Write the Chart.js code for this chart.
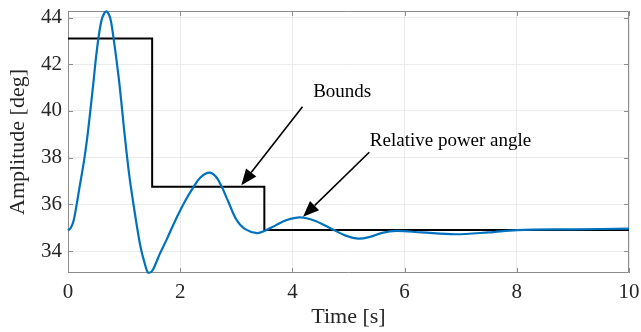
<!DOCTYPE html>
<html>
<head>
<meta charset="utf-8">
<script src="https://cdn.jsdelivr.net/npm/chart.js@4.4.1/dist/chart.umd.min.js"></script>
<style>
    html, body { margin: 0; padding: 0; background: #fff; }
    #wrap { width: 641px; height: 332px; }
</style>
</head>
<body>
<div id="wrap"><canvas id="grafico" width="641" height="332"></canvas></div>
<script>
// datos
const tiempo = [0, 0.05, 0.1, 0.155, 0.2, 0.25, 0.3, 0.35, 0.4, 0.45, 0.5, 0.55, 0.6, 0.65, 0.69,
    0.75, 0.81, 0.9, 0.95, 1.0, 1.05, 1.1, 1.18, 1.25, 1.3, 1.37, 1.43, 1.5, 1.57, 1.64, 1.76,
    1.94, 2.1, 2.24, 2.36, 2.51, 2.63, 2.74, 2.86, 3.0, 3.15, 3.37, 3.5, 3.7, 3.9, 4.14, 4.4,
    4.6, 4.74, 4.95, 5.18, 5.4, 5.6, 5.85, 6.3, 6.9, 7.5, 8.0, 9.0, 10];
const angulo = [34.88, 35.0, 35.3, 36.0, 36.65, 37.35, 38.1, 39.0, 40.05, 41.15, 42.3, 43.25, 43.9, 44.2, 44.26,
    44.0, 43.15, 41.5, 40.4, 39.2, 38.1, 37.1, 35.8, 34.75, 34.1, 33.45, 33.07, 33.15, 33.5, 33.9, 34.5,
    35.45, 36.2, 36.75, 37.15, 37.36, 37.2, 36.75, 36.1, 35.35, 34.95, 34.77, 34.86, 35.1, 35.33, 35.44, 35.3,
    35.07, 34.9, 34.66, 34.53, 34.62, 34.78, 34.86, 34.8, 34.72, 34.8, 34.9, 34.93, 34.96];

const tiempoLimite = [0, 1.5, 1.5, 3.5, 3.5, 10];
const limite = [43.1, 43.1, 36.75, 36.75, 34.9, 34.9];

const ticksX = [0, 2, 4, 6, 8, 10];
const ticksY = [34, 36, 38, 40, 42, 44];

// textos y flechas (en coordenadas de los ejes)
const notas = [
    { texto: 'Bounds', x: 4.37, y: 40.6, desde: [4.18, 40.18], hasta: [3.09, 36.82] },
    { texto: 'Relative power angle', x: 5.38, y: 38.51, desde: [5.37, 38.23], hasta: [4.19, 35.47] }
];

const fuente = 'Liberation Serif, Times New Roman, serif';

const marco = {
    id: 'marco',
    beforeDatasetsDraw(chart) {
        const { ctx, chartArea: a, scales } = chart;
        ctx.save();
        ctx.strokeStyle = '#8c8c8c';
        ctx.lineWidth = 1;
        ctx.beginPath();
        ctx.rect(a.left + 0.5, a.top + 0.5, a.right - a.left - 1, a.bottom - a.top - 1);
        ctx.stroke();
        // marcas hacia adentro
        ctx.beginPath();
        ticksX.forEach(v => {
            const px = Math.round(scales.x.getPixelForValue(v)) + 0.5;
            ctx.moveTo(px, a.bottom); ctx.lineTo(px, a.bottom - 5);
            ctx.moveTo(px, a.top); ctx.lineTo(px, a.top + 5);
        });
        ticksY.forEach(v => {
            const py = Math.round(scales.y.getPixelForValue(v)) + 0.5;
            ctx.moveTo(a.left, py); ctx.lineTo(a.left + 5, py);
            ctx.moveTo(a.right, py); ctx.lineTo(a.right - 5, py);
        });
        ctx.stroke();
        ctx.restore();
    },
    afterDatasetsDraw(chart) {
        const { ctx, scales } = chart;
        ctx.save();
        ctx.fillStyle = '#000';
        ctx.strokeStyle = '#000';
        ctx.font = '19px ' + fuente;
        ctx.textBaseline = 'alphabetic';
        ctx.textAlign = 'left';
        notas.forEach(n => {
            ctx.fillText(n.texto, scales.x.getPixelForValue(n.x), scales.y.getPixelForValue(n.y));
            const x1 = scales.x.getPixelForValue(n.desde[0]);
            const y1 = scales.y.getPixelForValue(n.desde[1]);
            const x2 = scales.x.getPixelForValue(n.hasta[0]);
            const y2 = scales.y.getPixelForValue(n.hasta[1]);
            const ang = Math.atan2(y2 - y1, x2 - x1);
            const largo = 16, ancho = 6.5;
            const bx = x2 - largo * Math.cos(ang);
            const by = y2 - largo * Math.sin(ang);
            ctx.lineWidth = 1.6;
            ctx.beginPath();
            ctx.moveTo(x1, y1);
            ctx.lineTo(bx, by);
            ctx.stroke();
            ctx.beginPath();
            ctx.moveTo(x2, y2);
            ctx.lineTo(bx + ancho * Math.sin(ang), by - ancho * Math.cos(ang));
            ctx.lineTo(bx - ancho * Math.sin(ang), by + ancho * Math.cos(ang));
            ctx.closePath();
            ctx.fill();
        });
        ctx.restore();
    }
};

// sin relleno extra por las etiquetas de los extremos
function sinRelleno(s) {
    s.paddingTop = 0;
    s.paddingBottom = 0;
    s.paddingLeft = 0;
    s.paddingRight = 0;
}

const grafico = new Chart(document.getElementById('grafico').getContext('2d'), {
    type: 'line',
    data: {
        datasets: [{
            label: 'Relative power angle',
            data: tiempo.map((t, i) => ({ x: t, y: angulo[i] })),
            borderColor: '#0072BD',
            borderWidth: 2.2,
            pointRadius: 0,
            tension: 0.35,
            fill: false,
            clip: 4
        }, {
            label: 'Bounds',
            data: tiempoLimite.map((t, i) => ({ x: t, y: limite[i] })),
            borderColor: '#000',
            borderWidth: 2,
            pointRadius: 0,
            tension: 0,
            fill: false
        }]
    },
    options: {
        responsive: false,
        animation: false,
        devicePixelRatio: 1,
        layout: { padding: { left: 0, top: 11, right: 12, bottom: 0 } },
        plugins: {
            legend: { display: false },
            tooltip: { enabled: false }
        },
        scales: {
            x: {
                type: 'linear',
                min: 0,
                max: 10,
                afterBuildTicks: s => { s.ticks = ticksX.map(v => ({ value: v })); },
                afterFit: s => { s.height = 59; sinRelleno(s); },
                grid: { color: '#ebebeb', drawTicks: false },
                border: { display: false },
                ticks: { padding: 7, color: '#262626', font: { family: fuente, size: 21 }, maxRotation: 0 },
                title: { display: true, text: 'Time [s]', color: '#262626', font: { family: fuente, size: 22 }, padding: { top: 0, bottom: 2 } }
            },
            y: {
                min: 33.06,
                max: 44.28,
                afterBuildTicks: s => { s.ticks = ticksY.map(v => ({ value: v })); },
                afterFit: s => { s.width = 68; sinRelleno(s); },
                grid: { color: '#ebebeb', drawTicks: false },
                border: { display: false },
                ticks: { padding: 6, color: '#262626', font: { family: fuente, size: 21 } },
                title: { display: true, text: 'Amplitude [deg]', color: '#262626', font: { family: fuente, size: 22 }, padding: { top: 5, bottom: 0 } }
            }
        }
    },
    plugins: [marco]
});
</script>
</body>
</html>
